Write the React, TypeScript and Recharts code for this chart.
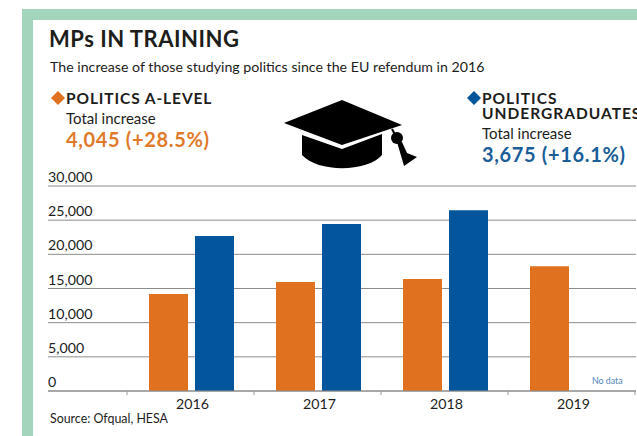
import React from "react";
import { BarChart, Bar, XAxis, YAxis, CartesianGrid } from "recharts";

const categories = ["2016", "2017", "2018", "2019"];
const aLevel = [14190, 15950, 16390, 18240];
const undergraduates: (number | null)[] = [22700, 24430, 26450, null];
const yTicks = [0, 5000, 10000, 15000, 20000, 25000, 30000];

const rows = categories.map((year, i) => ({
  year,
  aLevel: aLevel[i],
  undergraduates: undergraduates[i],
}));

const FONT = "Lato, 'Open Sans', sans-serif";
const INK = "#1d1d1b";
const ORANGE = "#E0711F";
const BLUE = "#03559C";

const YTick = (props: any) => (
  <text x={48} y={props.y - 4} fontFamily={FONT} fontSize={14.2} fill={INK} textAnchor="start">
    {Number(props.payload.value).toLocaleString("en-GB")}
  </text>
);

const XTick = (props: any) => {
  return (
    <g>
      <line x1={props.x - 64.5} x2={props.x - 64.5} y1={391} y2={395} stroke="#999" />
      {props.index === categories.length - 1 && (
        <line x1={props.x + 62.5} x2={props.x + 62.5} y1={391} y2={395} stroke="#999" />
      )}
      <text x={props.x + 1} y={409} fontFamily={FONT} fontSize={14.2} fill={INK} textAnchor="middle">
        {props.payload.value}
      </text>
    </g>
  );
};

const abs = (left: number, top: number, style: React.CSSProperties = {}): React.CSSProperties => ({
  position: "absolute",
  left,
  top,
  whiteSpace: "nowrap",
  fontFamily: FONT,
  color: INK,
  lineHeight: 1,
  ...style,
});

const Diamond = ({ x, y, color }: { x: number; y: number; color: string }) => (
  <svg style={{ position: "absolute", left: x, top: y }} width={14} height={14}>
    <path d="M7 0 L14 7 L7 14 L0 7 Z" fill={color} />
  </svg>
);

export default function App() {
  return (
    <div
      style={{
        position: "absolute",
        left: 0,
        top: 0,
        width: 637,
        height: 436,
        overflow: "hidden",
        background: "#fff",
      }}
    >
      <div
        style={{
          position: "absolute",
          left: 22,
          top: 9,
          width: 640,
          height: 460,
          boxSizing: "border-box",
          border: "11px solid #A3D5BC",
        }}
      />
      <div style={abs(49, 28, { fontSize: 22, fontWeight: 700, letterSpacing: 0.5 })}>MPs IN TRAINING</div>
      <div style={abs(50, 60, { fontSize: 14.2 })}>
        The increase of those studying politics since the EU refendum in 2016
      </div>

      <Diamond x={51} y={91} color={ORANGE} />
      <div style={abs(66, 91, { fontSize: 15.5, fontWeight: 700, letterSpacing: 0.9 })}>POLITICS A-LEVEL</div>
      <div style={abs(66, 111, { fontSize: 15 })}>Total increase</div>
      <div style={abs(66, 129, { fontSize: 20, fontWeight: 700, color: "#E07A2B", letterSpacing: 0.65 })}>
        4,045 (+28.5%)
      </div>

      <Diamond x={467} y={91} color={BLUE} />
      <div style={abs(482, 91, { fontSize: 15.5, fontWeight: 700, lineHeight: "15px", letterSpacing: 1.0 })}>
        POLITICS
        <br />
        UNDERGRADUATES
      </div>
      <div style={abs(482, 126, { fontSize: 15 })}>Total increase</div>
      <div style={abs(482, 144, { fontSize: 20, fontWeight: 700, color: "#1B5E98", letterSpacing: 0.65 })}>
        3,675 (+16.1%)
      </div>

      <svg style={{ position: "absolute", left: 280, top: 96 }} width={140} height={76}>
        <path d="M4 27 L62 4 L122 29 L62 49 Z" fill="#000" />
        <path d="M22 39 L62 53 L102 38 L102 59 C88 76 38 77 22 59 Z" fill="#000" />
        <path d="M112 33 L119 46" stroke="#000" strokeWidth={2} />
        <circle cx={117} cy={42} r={6} fill="#000" />
        <path d="M117 46 L122 46 L127 57 L137 61 L124 70 L122 63 Z" fill="#000" />
      </svg>

      <BarChart
        width={637}
        height={436}
        data={rows}
        style={{ position: "absolute", left: 0, top: 0 }}
        margin={{ top: 186, right: 1, bottom: 0, left: 0 }}
        barSize={39}
        barGap={7}
        barCategoryGap={0}
      >
        <CartesianGrid vertical={false} stroke="#8c8c8c" strokeWidth={1} />
        <XAxis
          dataKey="year"
          padding={{ left: 80, right: 0 }}
          axisLine={{ stroke: "#8c8c8c" }}
          tickLine={false}
          tick={<XTick />}
          interval={0}
          height={45}
        />
        <YAxis
          width={48}
          domain={[0, 30000]}
          ticks={yTicks}
          axisLine={false}
          tickLine={false}
          tick={<YTick />}
          interval={0}
        />
        <Bar dataKey="aLevel" fill={ORANGE} isAnimationActive={false} />
        <Bar dataKey="undergraduates" fill={BLUE} isAnimationActive={false} />
      </BarChart>

      <div style={abs(592, 377, { fontSize: 8.8, color: "#4F86B5" })}>No data</div>
      <div style={abs(50, 413, { fontSize: 12.4 })}>Source: Ofqual, HESA</div>
    </div>
  );
}
